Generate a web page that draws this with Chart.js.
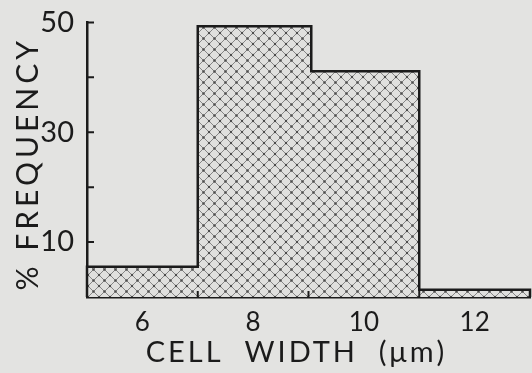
<!DOCTYPE html>
<html>
<head>
<meta charset="utf-8">
<script src="https://cdn.jsdelivr.net/npm/chart.js@4.4.1/dist/chart.umd.min.js"></script>
<style>
  html, body { margin: 0; padding: 0; background: #e3e3e1; }
  #wrap { width: 532px; height: 373px; }
</style>
</head>
<body>
<div id="wrap"><canvas id="hist"></canvas></div>
<script>
// bin edges (cell width, um) and % frequency per bin
const binEdges = [5, 7, 9.05, 11, 13];
const freqPct = [5.5, 49.3, 41.1, 1.3];
const xLabelTicks = [6, 8, 10, 12];
const xMarkTicks = [7, 9, 11];
const yLabelTicks = [10, 30, 50];
const yMarkTicks = [10, 20, 30, 40, 50];
const xTitle = 'CELL  WIDTH  (μm)';
const yTitle = '% FREQUENCY';

// build the stepped outline from the bins
const points = [{ x: binEdges[0], y: 0 }];
freqPct.forEach((f, i) => points.push({ x: binEdges[i], y: f }));
points.push({ x: binEdges[binEdges.length - 1], y: freqPct[freqPct.length - 1] });
points.push({ x: binEdges[binEdges.length - 1], y: 0 });

// crosshatch fill
function hatch() {
    const s = 11;
    const c = document.createElement('canvas');
    c.width = s; c.height = s;
    const g = c.getContext('2d');
    g.fillStyle = '#e0e0de';
    g.fillRect(0, 0, s, s);
    g.strokeStyle = '#7a7a7a';
    g.lineWidth = 0.9;
    g.beginPath();
    g.moveTo(0, 0); g.lineTo(s, s);
    g.moveTo(0, s); g.lineTo(s, 0);
    g.stroke();
    g.fillStyle = '#4a4a4a';
    [[s / 2, s / 2], [0, 0], [s, 0], [0, s], [s, s]].forEach(p => {
        g.beginPath();
        g.arc(p[0], p[1], 1.2, 0, Math.PI * 2);
        g.fill();
    });
    return g.createPattern(c, 'repeat');
}

const FONT = 'Lato, "Noto Sans", sans-serif';
const INK = '#1b1b1b';

// inward tick marks like the original drawing
const innerTicks = {
    id: 'innerTicks',
    afterDatasetsDraw(chart) {
        const { ctx, scales: { x, y } } = chart;
        ctx.save();
        ctx.strokeStyle = INK;
        ctx.lineWidth = 2;
        ctx.beginPath();
        xMarkTicks.forEach(v => {
            const px = x.getPixelForValue(v);
            ctx.moveTo(px, y.bottom);
            ctx.lineTo(px, y.bottom - 6);
        });
        yMarkTicks.forEach(v => {
            const py = y.getPixelForValue(v);
            ctx.moveTo(x.left, py);
            ctx.lineTo(x.left + 7, py);
        });
        ctx.stroke();
        ctx.restore();
    }
};

// axis titles with wide letter spacing
const spacedTitles = {
    id: 'spacedTitles',
    afterDraw(chart) {
        const { ctx, scales: { x, y } } = chart;
        ctx.save();
        ctx.fillStyle = INK;
        ctx.textAlign = 'center';
        ctx.textBaseline = 'middle';
        ctx.font = '29px ' + FONT;
        ctx.letterSpacing = '3px';
        ctx.fillText(xTitle, (x.left + x.right) / 2 - 12, x.bottom - 20);
        ctx.translate(y.left + 28, (y.top + y.bottom) / 2 + 4);
        ctx.rotate(-Math.PI / 2);
        ctx.font = '30px ' + FONT;
        ctx.letterSpacing = '4px';
        ctx.fillText(yTitle, 0, 0);
        ctx.restore();
    }
};

new Chart(document.getElementById('hist'), {
    type: 'line',
    data: {
        datasets: [{
            data: points,
            stepped: 'before',
            fill: 'origin',
            backgroundColor: hatch(),
            borderColor: INK,
            borderWidth: 2.5,
            pointRadius: 0,
            clip: 6
        }]
    },
    options: {
        responsive: true,
        maintainAspectRatio: false,
        animation: false,
        layout: { padding: { top: 22, right: -5, left: 0, bottom: 0 } },
        plugins: { legend: { display: false }, tooltip: { enabled: false } },
        scales: {
            x: {
                type: 'linear',
                min: 5,
                max: 13,
                afterFit(s) { s.height = 76; },
                afterBuildTicks(s) {
                    s.ticks = [5, 6, 7, 8, 9, 10, 11, 12, 13].map(v => ({ value: v }));
                },
                grid: { display: false },
                border: { display: true, color: INK, width: 2.5 },
                ticks: {
                    autoSkip: false,
                    maxRotation: 0,
                    padding: 2,
                    color: INK,
                    font: { family: FONT, size: 26 },
                    callback: v => xLabelTicks.includes(v) ? String(v) : ''
                }
            },
            y: {
                min: 0,
                max: 50,
                afterFit(s) { s.width = 87; },
                afterBuildTicks(s) {
                    s.ticks = [0, 10, 20, 30, 40, 50].map(v => ({ value: v }));
                },
                grid: { display: false },
                border: { display: true, color: INK, width: 2.5 },
                ticks: {
                    autoSkip: false,
                    padding: 5,
                    color: INK,
                    font: { family: FONT, size: 29 },
                    callback: v => yLabelTicks.includes(v) ? String(v) : ''
                }
            }
        }
    },
    plugins: [innerTicks, spacedTitles]
});
</script>
</body>
</html>
